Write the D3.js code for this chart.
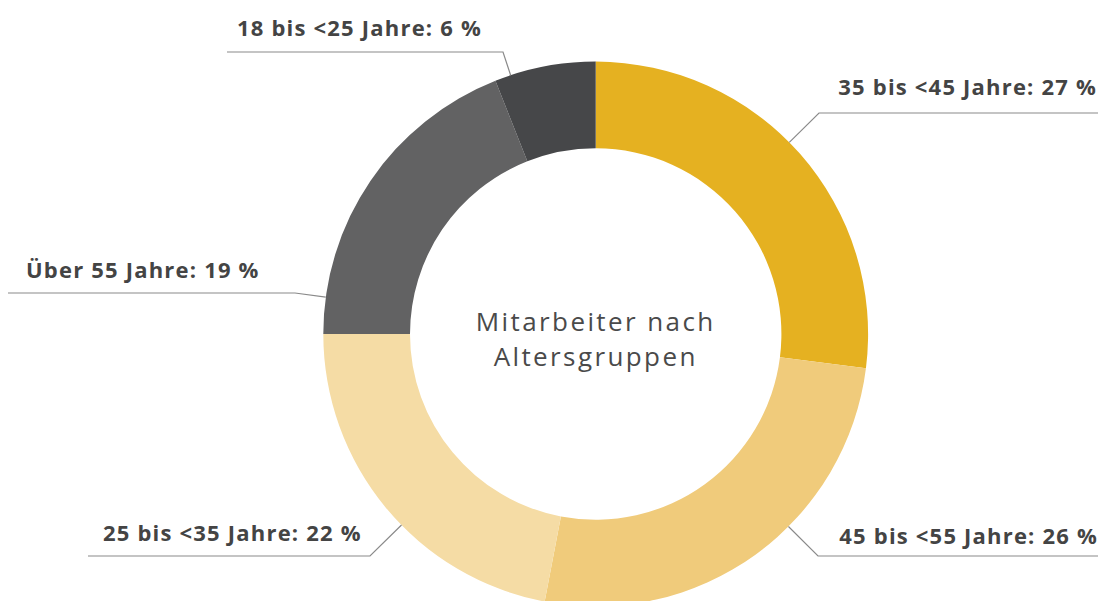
<!DOCTYPE html>
<html>
<head>
<meta charset="utf-8">
<script src="https://cdn.jsdelivr.net/npm/d3@7"></script>
<style>
  body { margin: 0; background: #fff; }
  svg { display: block; }
</style>
</head>
<body>
<svg width="1098" height="601"></svg>
<script>
// data, clockwise from 12 o'clock
const groups = ["35 bis <45 Jahre", "45 bis <55 Jahre", "25 bis <35 Jahre", "Über 55 Jahre", "18 bis <25 Jahre"];
const shares = [27, 26, 22, 19, 6];
const colors = ["#E5B121", "#F0CB7B", "#F5DCA5", "#626263", "#464749"];
const centerTitle = ["Mitarbeiter nach", "Altersgruppen"];

// label placement (layout only)
const labelLayout = [
  {side: "right", lineY: 113, elbowX: 819, lineEnd: 1098, textX: 1097, textY: 95},
  {side: "right", lineY: 556, elbowX: 818, lineEnd: 1098, textX: 1098, textY: 544},
  {side: "left",  lineY: 556, elbowX: 370, lineEnd: 88,   textX: 103,  textY: 541},
  {side: "left",  lineY: 293, elbowX: 295, lineEnd: 8,    textX: 26,   textY: 278},
  {side: "left",  lineY: 52,  elbowX: 503, lineEnd: 227,  textX: 237,  textY: 36}
];

const dims = {cx: 595.7, cy: 334, outer: 272.4, inner: 185.7};

const svg = d3.select("svg");
const g = svg.append("g").attr("transform", "translate(" + dims.cx + "," + dims.cy + ")");

const pie = d3.pie().sort(null).value(d => d)(shares);
const arc = d3.arc().innerRadius(dims.inner).outerRadius(dims.outer);

g.selectAll("path.slice")
  .data(pie)
  .enter().append("path")
    .attr("class", "slice")
    .attr("d", arc)
    .attr("fill", (d, i) => colors[i]);

// leader lines: from ring edge (pointing at elbow) to elbow, then flat under the label
const leaders = svg.append("g");
pie.forEach(function(d, i) {
  const L = labelLayout[i];
  const ang = Math.atan2(L.elbowX - dims.cx, dims.cy - L.lineY);
  const sx = dims.cx + dims.outer * Math.sin(ang);
  const sy = dims.cy - dims.outer * Math.cos(ang);
  leaders.append("polyline")
    .attr("points", [[sx, sy], [L.elbowX, L.lineY], [L.lineEnd, L.lineY]].map(p => p.join(",")).join(" "))
    .attr("fill", "none")
    .attr("stroke", "#8a8a8a")
    .attr("stroke-width", 1.2);

  svg.append("text")
    .attr("x", L.textX)
    .attr("y", L.textY)
    .attr("text-anchor", L.side === "right" ? "end" : "start")
    .attr("font-family", "'Open Sans', sans-serif")
    .attr("font-weight", 700)
    .attr("font-size", 22)
    .attr("letter-spacing", 1.2)
    .attr("fill", "#444444")
    .text(groups[i] + ": " + shares[i] + " %");
});

svg.append("text")
  .attr("x", dims.cx)
  .attr("y", 0)
  .attr("text-anchor", "middle")
  .attr("font-family", "'Open Sans', sans-serif")
  .attr("font-size", 26)
  .attr("letter-spacing", 2.4)
  .attr("fill", "#4a4a4a")
  .selectAll("tspan")
  .data(centerTitle)
  .enter().append("tspan")
    .attr("x", dims.cx)
    .attr("y", (d, i) => 331 + i * 35)
    .text(d => d);
</script>
</body>
</html>
